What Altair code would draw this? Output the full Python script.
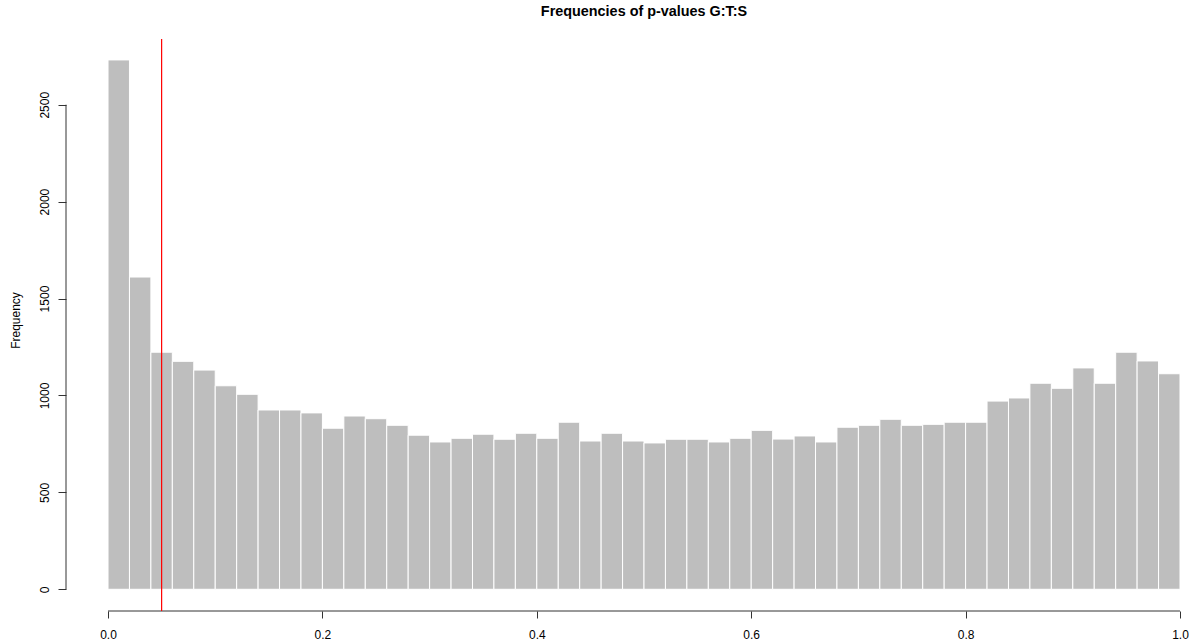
import altair as alt
import numpy as np
import pandas as pd

# Histogram of p-values: 50 bins of width 0.02 on [0, 1]
bin_width = 0.02
counts = [2731, 1611, 1223, 1176, 1131, 1050, 1006, 925, 925, 910,
          831, 894, 880, 846, 795, 760, 779, 800, 774, 805,
          779, 862, 765, 805, 765, 755, 774, 774, 760, 779,
          820, 775, 791, 760, 836, 846, 877, 846, 851, 862,
          862, 971, 987, 1063, 1037, 1142, 1063, 1223, 1178, 1112]
cutoff = 0.05
title_text = "Frequencies of p-values G:T:S"
x_ticks = [0.0, 0.2, 0.4, 0.6, 0.8, 1.0]
y_ticks = [0, 500, 1000, 1500, 2000, 2500]

starts = np.round(np.arange(len(counts)) * bin_width, 4)
bars_df = pd.DataFrame({"start": starts, "end": starts + bin_width, "count": counts})

FONT = "Liberation Sans"
AXIS_COLOR = "#333333"

x_scale = alt.Scale(domain=[-0.0392, 1.0084], nice=False, zero=False)
y_scale = alt.Scale(domain=[-112, 2839], nice=False, zero=False)

bars = alt.Chart(bars_df).mark_rect(
    color="#BEBEBE", stroke="#FFFFFF", strokeWidth=1
).encode(
    x=alt.X("start:Q", scale=x_scale,
            axis=alt.Axis(values=x_ticks, format=".1f", title=None, grid=False,
                          domain=False, tickSize=7, tickColor=AXIS_COLOR,
                          labelFontSize=12, labelFont=FONT, labelColor="#000000",
                          labelPadding=11, labelBaseline="top", labelFlush=False,
                          labelAlign="center")),
    x2="end:Q",
    y=alt.Y("count:Q", scale=y_scale,
            axis=alt.Axis(values=y_ticks, format="d", grid=False, domain=False,
                          tickSize=8, tickColor=AXIS_COLOR,
                          labelFontSize=12, labelFont=FONT, labelColor="#000000",
                          labelAngle=270, labelAlign="center",
                          labelBaseline="alphabetic", labelPadding=10,
                          title="Frequency", titleFont=FONT, titleFontSize=12,
                          titleFontWeight="normal", titleColor="#000000",
                          titleAngle=270, titleAlign="center",
                          titleBaseline="middle", titleX=-51, titleY=281)),
    y2=alt.datum(0),
)

# Detached axis lines spanning only the tick range
y_line = alt.Chart(pd.DataFrame({"lo": [y_ticks[0]], "hi": [y_ticks[-1]]})).mark_rule(
    color=AXIS_COLOR, strokeWidth=1
).encode(x=alt.value(0), y=alt.Y("lo:Q", scale=y_scale), y2="hi:Q")

x_line = alt.Chart(pd.DataFrame({"lo": [x_ticks[0]], "hi": [x_ticks[-1]]})).mark_rule(
    color=AXIS_COLOR, strokeWidth=1
).encode(y=alt.value(572), x=alt.X("lo:Q", scale=x_scale), x2="hi:Q")

# Significance cutoff
cut = alt.Chart(pd.DataFrame({"p": [cutoff]})).mark_rule(
    stroke="#FF0000", color="#FF0000", strokeWidth=1.2, opacity=1
).encode(x=alt.X("p:Q", scale=x_scale))

title = alt.Chart(pd.DataFrame({"t": [title_text], "mid": [0.5]})).mark_text(
    font=FONT, fontSize=14.4, fontWeight="bold", color="#000000",
    align="center", baseline="alphabetic"
).encode(x=alt.X("mid:Q", scale=x_scale), y=alt.value(-23.5), text="t:N")

chart = alt.layer(bars, y_line, x_line, cut, title).properties(
    width=1123, height=572,
    autosize=alt.AutoSizeParams(type="none"),
    padding={"left": 66, "top": 39, "right": 0, "bottom": 29},
    background="#FFFFFF",
).configure_view(stroke=None)

chart.save("out.html", embed_options={"renderer": "svg", "actions": False})
